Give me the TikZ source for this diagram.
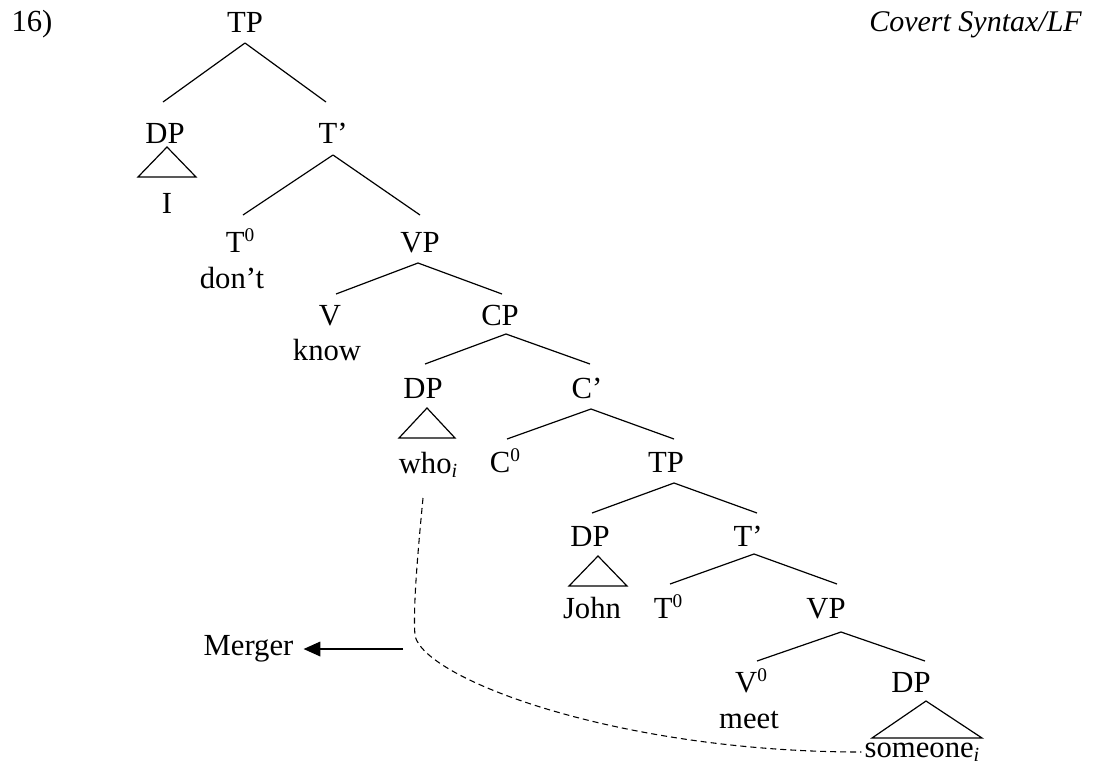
\documentclass[tikz,border=0pt]{standalone}
\usepackage{fontspec}
\setmainfont{Liberation Serif}
\usetikzlibrary{calc,arrows.meta}
% small raised zero for bar-level heads, small italic index
\newcommand\supz{\raisebox{8pt}{\fontsize{14.5}{14.5}\selectfont 0}}
\newcommand\subi{\raisebox{-3pt}{\fontsize{15}{15}\selectfont\itshape i}}
\begin{document}
\begin{tikzpicture}[x=0.75pt,y=-0.75pt,
  lab/.style={anchor=base,inner sep=0pt,font=\fontsize{23}{27}\selectfont},
  branch/.style={line width=0.9pt},
  roof/.style={line width=0.9pt,line join=miter},
  trace/.style={line width=0.8pt,dash pattern=on 4.5pt off 3pt},
  pointer/.style={line width=0.9pt,-{Triangle[length=12.5pt,width=11pt]}}]
\useasboundingbox (0,0) rectangle (1098,772);

% example number and heading
\node[lab] (num) at (32,31) {16)};
\node[lab,anchor=base east,font=\fontsize{22.5}{27}\selectfont\itshape] (title) at (1082,31) {Covert Syntax/LF};

% matrix clause
\node[lab] (TPa) at (245,32) {TP};
\node[lab] (DPa) at (165,143) {DP};
\node[lab] (I) at (167,213) {I};
\node[lab] (Tba) at (333,143) {T’};
\node[lab] (T0a) at (240,252) {T\supz};
\node[lab] (dont) at (232,288) {don’t};
\node[lab] (VPa) at (420,252) {VP};
\node[lab] (V) at (330,325) {V};
\node[lab] (know) at (327,360) {know};

% embedded question
\node[lab] (CP) at (500,325) {CP};
\node[lab] (DPb) at (423,398) {DP};
\node[lab] (who) at (428,473) {who\subi};
\node[lab] (Cb) at (587,398) {C’};
\node[lab] (C0) at (505,472) {C\supz};
\node[lab] (TPb) at (666,472) {TP};
\node[lab] (DPc) at (590,546) {DP};
\node[lab] (John) at (592,618) {John};
\node[lab] (Tbb) at (748,546) {T’};
\node[lab] (T0b) at (668,618) {T\supz};
\node[lab] (VPb) at (826,618) {VP};
\node[lab] (V0) at (751,692) {V\supz};
\node[lab] (meet) at (749,728) {meet};
\node[lab] (DPd) at (911,692) {DP};
\node[lab] (someone) at (922,757) {someone\subi};

% label for the dashed dependency
\node[lab] (Merger) at (248.5,655) {Merger};

% branches: parent, parent dx, parent dy, child, child dx, child dy
\foreach \p/\px/\py/\c/\cx/\cy in {
  TPa/0/11/DPa/-2/-41, TPa/0/11/Tba/-7/-41,
  Tba/0/12/T0a/3/-37, Tba/0/12/VPa/0/-37,
  VPa/-2/11/V/6/-31, VPa/-2/11/CP/2/-31,
  CP/6/9/DPb/2/-34, CP/6/9/Cb/3/-34,
  Cb/4/11/C0/2/-33, Cb/4/11/TPb/8/-33,
  TPb/8/11/DPc/2/-33, TPb/8/11/Tbb/9/-33,
  Tbb/6/8/T0b/2/-34, Tbb/6/8/VPb/11/-34,
  VPb/15/14/V0/6/-31, VPb/15/14/DPd/14/-31}
  \draw[branch] ($(\p.base)+(\px,\py)$) -- ($(\c.base)+(\cx,\cy)$);

% triangles over phrasal DPs
\draw[roof] ($(DPa.base)+(2,4)$) -- ++(-29,30) -- ++(58,0) -- cycle;
\draw[roof] ($(DPb.base)+(4,10)$) -- ++(-28,30) -- ++(56,0) -- cycle;
\draw[roof] ($(DPc.base)+(8,10)$) -- ++(-29,30) -- ++(58,0) -- cycle;
\draw[roof] ($(DPd.base)+(15,9)$) -- ++(-54,37) -- ++(110,0) -- cycle;

% dashed link between who and someone
\draw[trace] ($(who.base)+(-5,25)$) .. controls (417,560) and (413,610) .. (415,636)
  .. controls (426,680) and (620,752) .. ($(someone.base west)+(-3,-5)$);

% arrow pointing to the Merger label
\coordinate (mstart) at (403,649);
\draw[pointer] (mstart) -- ($(mstart -| Merger.east)+(10,0)$);
\end{tikzpicture}
\end{document}
